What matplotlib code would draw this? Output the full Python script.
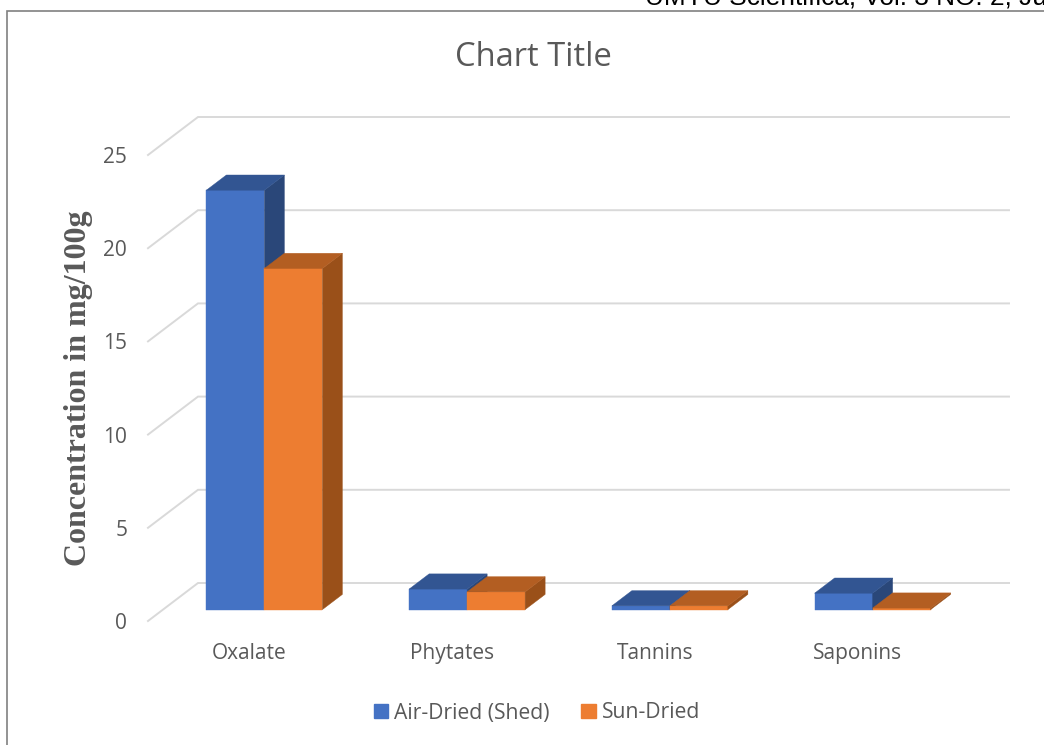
import numpy as np
import matplotlib
matplotlib.use("Agg")
import matplotlib.pyplot as plt
from matplotlib.patches import Polygon, Patch, Rectangle

categories = ["Oxalate", "Phytates", "Tannins", "Saponins"]
air_dried = [22.5, 1.1, 0.2, 0.88]
sun_dried = [18.3, 0.95, 0.2, 0.08]
yticks = [0, 5, 10, 15, 20, 25]

W, H = 1044, 745
plt.rcParams['font.family'] = ['Open Sans', 'DejaVu Sans']
grey = "#595959"
grid = "#D9D9D9"

fig = plt.figure(figsize=(W / 100, H / 100), dpi=100, facecolor="white")
# the axes is the front plane of the 3d box
left, right, bottom, top = 148, 959, 621, 155
ax = fig.add_axes([left / W, 1 - bottom / H, (right - left) / W, (bottom - top) / H])
ax.set_xlim(-0.5, 3.5)
ax.set_ylim(0, 25)
ax.patch.set_alpha(0)
for s in ax.spines.values():
    s.set_visible(False)

# depth of the box in data units
depth_x = 50 / ((right - left) / 4)
depth_y = 38 / ((bottom - top) / 25)
bar_w = 58 / ((right - left) / 4)

# wall and floor lines
end_x = -0.5 + depth_x + (1009 - 198) / ((right - left) / 4)
for v in yticks:
    ax.plot([-0.5, -0.5 + depth_x, end_x], [v, v + depth_y, v + depth_y],
            color=grid, lw=1.4, clip_on=False, zorder=1, solid_joinstyle="miter")


def bar3d(x, val, front, topc, side):
    # bars stand between 30% and 70% of the depth
    x0 = x + 0.3 * depth_x
    y0 = 0.3 * depth_y
    dx = 0.4 * depth_x
    dy = 0.4 * depth_y
    ax.bar(x0, val, bar_w, bottom=y0, align="edge", color=front, edgecolor=front,
           lw=0.3, clip_on=False, zorder=3)
    x1 = x0 + bar_w
    y1 = y0 + val
    ax.add_patch(Polygon([(x1, y0), (x1 + dx, y0 + dy), (x1 + dx, y1 + dy), (x1, y1)],
                         facecolor=side, edgecolor=side, lw=0.3, clip_on=False, zorder=3))
    ax.add_patch(Polygon([(x0, y1), (x0 + dx, y1 + dy), (x1 + dx, y1 + dy), (x1, y1)],
                         facecolor=topc, edgecolor=topc, lw=0.3, clip_on=False, zorder=3))


for i in range(len(categories)):
    bar3d(i - bar_w, air_dried[i], "#4472C4", "#325592", "#2A4779")
    bar3d(i, sun_dried[i], "#ED7D31", "#B35E22", "#9A5019")

ax.set_xticks(range(len(categories)))
ax.set_xticklabels(categories)
ax.set_yticks(yticks)
ax.tick_params(axis="both", length=0, labelsize=15, labelcolor=grey)
ax.tick_params(axis="x", pad=15.5)
ax.tick_params(axis="y", pad=15)

ax.set_ylabel("Concentration in mg/100g", family="Liberation Serif", weight="bold",
              fontsize=23, color=grey, labelpad=7.5)

fig.text(533 / W, 1 - 57 / H, "Chart Title", ha="center", va="center", fontsize=23.6, color=grey)

handles = [Patch(color="#4472C4", label="Air-Dried (Shed)"), Patch(color="#ED7D31", label="Sun-Dried")]
fig.legend(handles=handles, ncol=2, loc="center", bbox_to_anchor=(537 / W, 1 - 713 / H), frameon=False,
           fontsize=15.2, labelcolor=grey, handlelength=0.68, handleheight=0.68,
           handletextpad=0.3, columnspacing=1.5)

# page furniture
fig.add_artist(Rectangle((7 / W, -0.05), 1.1, 1.05 - 11 / H, transform=fig.transFigure,
                         facecolor="none", edgecolor="#808080", lw=1.2))
fig.text(645 / W, 1 - 5 / H, "UMYU Scientifica, Vol. 3 NO. 2, Ju", family="Liberation Sans",
         fontsize=18.9, color="black", ha="left", va="baseline")

fig.savefig("out.png", dpi=100)
